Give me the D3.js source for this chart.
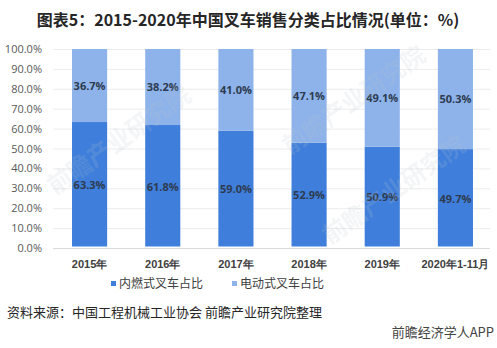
<!DOCTYPE html>
<html>
<head>
<meta charset="utf-8">
<script src="https://cdn.jsdelivr.net/npm/d3@7"></script>
<style>
  html, body { margin: 0; padding: 0; background: #fff; }
  svg { display: block; font-family: "Noto Sans CJK SC", "Noto Sans", sans-serif; }
</style>
</head>
<body>
<svg id="chart" width="497" height="348"></svg>
<script>
// Forklift sales mix by power type
const categories = ["2015年", "2016年", "2017年", "2018年", "2019年", "2020年1-11月"];
const iceShare = [63.3, 61.8, 59.0, 52.9, 50.9, 49.7];      // 内燃式叉车占比
const electricShare = [36.7, 38.2, 41.0, 47.1, 49.1, 50.3]; // 电动式叉车占比
const seriesNames = ["内燃式叉车占比", "电动式叉车占比"];
const yTicks = [0, 10, 20, 30, 40, 50, 60, 70, 80, 90, 100];

const colors = ["#3f7fdb", "#8db3ea"];

const svg = d3.select("#chart");
const margin = { left: 53, right: 5, top: 49, bottom: 100 };
const W = 497, H = 348;

const x = d3.scaleBand()
  .domain(categories)
  .range([margin.left, W - margin.right])
  .paddingInner(0.52)
  .paddingOuter(0.26);

const y = d3.scaleLinear().domain([0, 100]).range([H - margin.bottom, margin.top]);

// title
svg.append("text")
  .attr("x", 248).attr("y", 26)
  .attr("text-anchor", "middle")
  .attr("font-size", 16).attr("font-weight", "bold").attr("fill", "#262626")
  .text("图表5：2015-2020年中国叉车销售分类占比情况(单位：%)");

// gridlines
svg.append("g")
  .selectAll("line").data(yTicks).join("line")
  .attr("x1", margin.left).attr("x2", W - 7)
  .attr("y1", d => y(d) + 0.5).attr("y2", d => y(d) + 0.5)
  .attr("stroke", d => d === 0 ? "#d9d9d9" : "#ececec").attr("stroke-width", 1);

// y axis labels
const yAxis = d3.axisLeft(y).tickValues(yTicks).tickFormat(d => d.toFixed(1) + "%").tickSize(0).tickPadding(0);
const yg = svg.append("g").attr("transform", `translate(42,0)`).call(yAxis);
yg.select(".domain").remove();
yg.selectAll("text").attr("font-size", 11).attr("fill", "#595959")
  .attr("font-family", "\"Open Sans\", \"Noto Sans\", sans-serif");

// stacked bars
const rows = categories.map((c, i) => ({ cat: c, v: [iceShare[i], electricShare[i]] }));
const bars = svg.append("g");
rows.forEach(r => {
  let base = 0;
  r.v.forEach((val, k) => {
    const y0 = y(base), y1 = y(base + val);
    bars.append("rect")
      .attr("x", x(r.cat)).attr("width", x.bandwidth())
      .attr("y", y1).attr("height", y0 - y1 - (k === 0 ? 1.5 : 0))
      .attr("fill", colors[k]);
    bars.append("text")
      .attr("x", x(r.cat) + x.bandwidth() / 2)
      .attr("y", (y0 + y1) / 2 + 4)
      .attr("text-anchor", "middle")
      .attr("font-size", 11).attr("font-weight", "bold")
      .attr("font-family", "\"Open Sans\", \"Noto Sans\", sans-serif")
      .attr("fill", "#2e3b50")
      .text(val.toFixed(1) + "%");
    base += val;
  });
});

// faint watermark over the plot
const wm = svg.append("g").attr("fill", "#b9c3cf").attr("opacity", 0.18)
  .attr("font-size", 24).attr("font-weight", "bold");
[[55, 195], [290, 155], [330, 245]].forEach(([wx, wy]) => {
  wm.append("text").attr("transform", `translate(${wx},${wy}) rotate(-35)`).text("前瞻产业研究院");
});

// x axis labels
const xAxis = d3.axisBottom(x).tickSize(0).tickPadding(0);
const xg = svg.append("g").attr("transform", `translate(0,${y(0) + 20})`).call(xAxis);
xg.select(".domain").remove();
xg.selectAll("text").attr("font-size", 11).attr("font-weight", "bold").attr("fill", "#404040")
  .attr("dy", 0);

// legend
const legend = svg.append("g").attr("font-size", 12).attr("fill", "#404040");
const legendX = [111, 232];
seriesNames.forEach((n, k) => {
  legend.append("rect").attr("x", legendX[k]).attr("y", 281).attr("width", 5).attr("height", 5).attr("fill", colors[k]);
  legend.append("text").attr("x", legendX[k] + 8).attr("y", 288).text(n);
});

// source and footer
svg.append("text").attr("x", 7).attr("y", 317).attr("font-size", 13).attr("fill", "#262626")
  .text("资料来源：中国工程机械工业协会 前瞻产业研究院整理");
svg.append("text").attr("x", 494).attr("y", 337).attr("text-anchor", "end")
  .attr("font-size", 13).attr("fill", "#444")
  .text("前瞻经济学人APP");
</script>
</body>
</html>
